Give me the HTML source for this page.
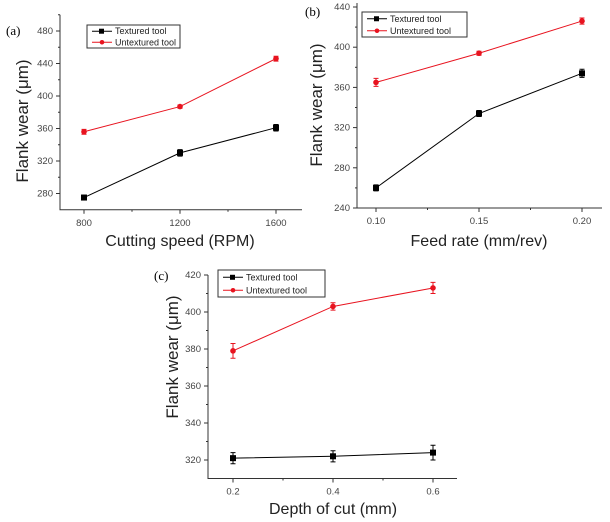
<!DOCTYPE html>
<html><head><meta charset="utf-8"><style>
html,body{margin:0;padding:0;background:#fff;}
svg{display:block;font-family:"Liberation Sans",Arial,sans-serif;}
</style></head><body>
<svg id="s" width="610" height="522" viewBox="0 0 610 522"></svg>
<script>
// Panel (a)
const aCats=[800,1200,1600];
const aTex=[275,330,361];
const aUnt=[356,387,446];
const aTexErr=[3,4,4];
const aUntErr=[3,2,3];
const aYTicks=[280,320,360,400,440,480];
// Panel (b)
const bCats=[0.10,0.15,0.20];
const bTex=[260,334,374];
const bUnt=[365,394,426];
const bTexErr=[3,3,4];
const bUntErr=[4,2,3];
const bYTicks=[240,280,320,360,400,440];
const bXLabels=["0.10","0.15","0.20"];
// Panel (c)
const cCats=[0.2,0.4,0.6];
const cTex=[321,322,324];
const cUnt=[379,403,413];
const cTexErr=[3,3,4];
const cUntErr=[4,2,3];
const cYTicks=[320,340,360,380,400,420];
const cXLabels=["0.2","0.4","0.6"];

const NS="http://www.w3.org/2000/svg";
const svg=document.getElementById('s');
function el(t,a,p){const e=document.createElementNS(NS,t);for(const k in a)e.setAttribute(k,a[k]);(p||svg).appendChild(e);return e;}

function panel(cfg){
  const g=el('g',{});
  
  
  const X=v=>cfg.x0+(v-cfg.c0)/(cfg.c1-cfg.c0)*(cfg.x1-cfg.x0);
  const Y=v=>cfg.yb0+(v-cfg.v0)/(cfg.v1-cfg.v0)*(cfg.yb1-cfg.yb0);
  const yTop=Y(cfg.ymax), yBot=Y(cfg.ymin);
  const ax=el('path',{d:`M${cfg.ax} ${yTop}V${yBot}H${cfg.axr}`,stroke:'#333',fill:'none','stroke-width':1},g);
  
  
  cfg.yTicks.forEach((t,i)=>{
    const y=Y(t);
    el('line',{x1:cfg.ax-4,x2:cfg.ax,y1:y,y2:y,stroke:'#333'},g);
    const half=Y(t+ (cfg.yTicks[1]-cfg.yTicks[0])/2);
    if(half>=yTop-0.5) el('line',{x1:cfg.ax-2,x2:cfg.ax,y1:half,y2:half,stroke:'#333'},g);
    const tx=el('text',{x:cfg.ax-7,y:y+3,'font-size':9.5,'text-anchor':'end',fill:'#444'},g);
    tx.textContent=t;
    
    
  });
  cfg.cats.forEach((c,i)=>{
    const x=X(c);
    el('line',{x1:x,x2:x,y1:yBot,y2:yBot+4,stroke:'#333'},g);
    if(i<cfg.cats.length-1){const m=(x+X(cfg.cats[i+1]))/2;el('line',{x1:m,x2:m,y1:yBot,y2:yBot+2,stroke:'#333'},g);}
    const tx=el('text',{x:x,y:yBot+16,'font-size':9.5,'text-anchor':'middle',fill:'#444'},g);
    tx.textContent=cfg.xLabels[i];
    
    
  });
  [[cfg.tex,cfg.texErr,'#000','sq','textured'],[cfg.unt,cfg.untErr,'#e8131f','ci','untextured']].forEach(([vals,err,col,mk,nm])=>{
    const pl=el('polyline',{points:vals.map((v,i)=>X(cfg.cats[i])+','+Y(v)).join(' '),fill:'none',stroke:col,'stroke-width':1},g);
    
    
    vals.forEach((v,i)=>{
      const x=X(cfg.cats[i]),y=Y(v),e1=Y(v+err[i]),e2=Y(v-err[i]);
      el('path',{d:`M${x} ${e1}V${e2}M${x-2.5} ${e1}H${x+2.5}M${x-2.5} ${e2}H${x+2.5}`,stroke:col,'stroke-width':1},g);
      const m=mk==='sq'?el('rect',{x:x-3,y:y-3,width:6,height:6,fill:col},g):el('circle',{cx:x,cy:y,r:2.8,fill:col},g);
      
      
    });
  });
  const L=cfg.leg;
  const lg=el('g',{},g);
  
  
  el('rect',{x:L.x,y:L.y,width:L.w,height:L.h,fill:'#fff',stroke:'#333'},lg);
  [['Textured tool','#000','sq'],['Untextured tool','#e8131f','ci']].forEach(([t,c,mk],i)=>{
    const yy=L.y+L.h*(0.27+0.48*i);
    el('line',{x1:L.x+5,x2:L.x+25,y1:yy,y2:yy,stroke:c},lg);
    if(mk==='sq')el('rect',{x:L.x+12,y:yy-2.5,width:5,height:5,fill:c},lg);else el('circle',{cx:L.x+15,cy:yy,r:2.3,fill:c},lg);
    const tx=el('text',{x:L.x+28,y:yy+3,'font-size':9,fill:'#222'},lg);
    tx.textContent=t;
    
    
  });
  const pl=el('text',{x:cfg.lab[0],y:cfg.lab[1],'font-size':13,'font-family':'Liberation Serif,serif',fill:'#000'},g);
  pl.textContent='('+cfg.id+')';
  
  
  const xt=el('text',{x:cfg.xt[0],y:cfg.xt[1],'font-size':16,'text-anchor':'middle',fill:'#222'},g);
  xt.textContent=cfg.xTitle;
  
  
  const yt=el('text',{x:0,y:0,'font-size':17,'text-anchor':'middle',fill:'#222',transform:`translate(${cfg.yt[0]},${cfg.yt[1]}) rotate(-90)`},g);
  yt.textContent='Flank wear (\u03bcm)';
  
  
}

panel({id:'a',cats:aCats,xLabels:aCats.map(String),tex:aTex,unt:aUnt,texErr:aTexErr,untErr:aUntErr,yTicks:aYTicks,
  c0:800,c1:1600,x0:84,x1:276,v0:280,v1:480,yb0:193.5,yb1:31,ymin:260,ymax:500,ax:60,axr:302,
  leg:{x:87,y:25,w:93,h:23},lab:[6,35],xt:[180,246],yt:[28,121],xTitle:'Cutting speed (RPM)'});
panel({id:'b',cats:bCats,xLabels:bXLabels,tex:bTex,unt:bUnt,texErr:bTexErr,untErr:bUntErr,yTicks:bYTicks,
  c0:0.10,c1:0.20,x0:376,x1:582,v0:240,v1:440,yb0:208,yb1:7,ymin:240,ymax:444,ax:357,axr:602,
  leg:{x:362,y:12,w:105,h:25},lab:[305,16],xt:[479,246],yt:[322,105],xTitle:'Feed rate (mm/rev)'});
panel({id:'c',cats:cCats,xLabels:cXLabels,tex:cTex,unt:cUnt,texErr:cTexErr,untErr:cUntErr,yTicks:cYTicks,
  c0:0.2,c1:0.6,x0:233,x1:433,v0:320,v1:420,yb0:460,yb1:275,ymin:310,ymax:420,ax:208,axr:457,
  leg:{x:218,y:270,w:107,h:27},lab:[154,280],xt:[333,514],yt:[178,357],xTitle:'Depth of cut (mm)'});
</script>
</body></html>
